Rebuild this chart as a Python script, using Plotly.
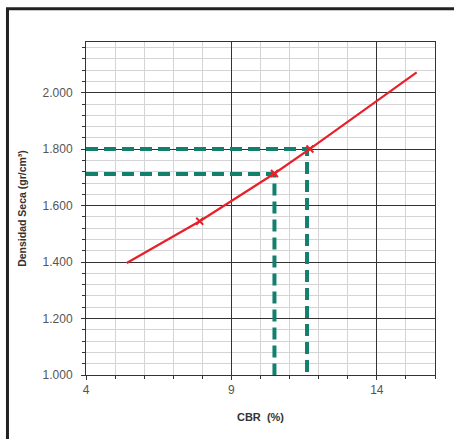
import plotly.graph_objects as go

# Curve data (CBR %, dry density)
cbr_curve = [5.40, 7.91, 10.48, 11.70, 15.37]
dens_curve = [1.397, 1.545, 1.714, 1.801, 2.072]

# Marked points
cbr_marks = [7.91, 10.48, 11.70]
dens_marks = [1.545, 1.714, 1.801]

# Reference (dashed) readings
cbr_ref = [10.48, 11.60]
dens_ref = [1.712, 1.801]

y_tickvals = [1.0, 1.2, 1.4, 1.6, 1.8, 2.0]
y_ticktext = ["1.000", "1.200", "1.400", "1.600", "1.800", "2.000"]
x_tickvals = [4, 9, 14]

teal = "#13806e"
red = "#e8202a"

fig = go.Figure()

for cx, dy in zip(cbr_ref, dens_ref):
    fig.add_trace(go.Scatter(x=[4, cx, cx], y=[dy, dy, 1.0], mode="lines",
                             line=dict(color=teal, width=4, dash="12px,6px"),
                             hoverinfo="skip", showlegend=False))

fig.add_trace(go.Scatter(x=cbr_curve, y=dens_curve, mode="lines",
                         line=dict(color=red, width=2.2), showlegend=False))
fig.add_trace(go.Scatter(x=cbr_marks, y=dens_marks, mode="markers",
                         marker=dict(symbol="x-thin", size=7, color=red,
                                     line=dict(color=red, width=2)),
                         showlegend=False))

fig.update_layout(
    width=454, height=439,
    margin=dict(l=86, r=19, t=42, b=64),
    paper_bgcolor="white", plot_bgcolor="white",
    font=dict(family="Liberation Sans, Arial, sans-serif", size=12, color="#555"),
    xaxis=dict(range=[4, 16], tickvals=x_tickvals, ticktext=["4", "9", "14"],
               showgrid=True, gridcolor="#333", gridwidth=1,
               minor=dict(dtick=1, tick0=4, showgrid=True, gridcolor="#d4d4d4",
                          ticks="outside", ticklen=3, tickcolor="#333"),
               ticks="outside", ticklen=4, tickcolor="#333",
               showline=True, linecolor="#333", linewidth=1, mirror=True,
               zeroline=False,
               title=dict(text="<b>CBR  (%)</b>", font=dict(size=11, color="#333"),
                          standoff=16)),
    yaxis=dict(range=[1.0, 2.18], tickvals=y_tickvals, ticktext=y_ticktext,
               showgrid=True, gridcolor="#333", gridwidth=1,
               minor=dict(dtick=0.04, tick0=1.0, showgrid=True, gridcolor="#d4d4d4",
                          ticks="outside", ticklen=3, tickcolor="#333"),
               ticks="outside", ticklen=4, tickcolor="#333",
               ticklabelstandoff=6,
               showline=True, linecolor="#333", linewidth=1, mirror=True,
               zeroline=False,
               title=dict(text="<b>Densidad Seca (gr/cm³)</b>", font=dict(size=10.5, color="#333"),
                          standoff=13)),
)

# outer frame
fig.add_shape(type="rect", xref="paper", yref="paper",
              x0=-0.225, x1=1.2, y0=-0.4, y1=1.1,
              line=dict(color="#222", width=3), layer="above")

fig.write_html("out.html", config={"displayModeBar": False},
               post_script="document.body.style.margin='0';document.body.style.overflow='hidden';")
